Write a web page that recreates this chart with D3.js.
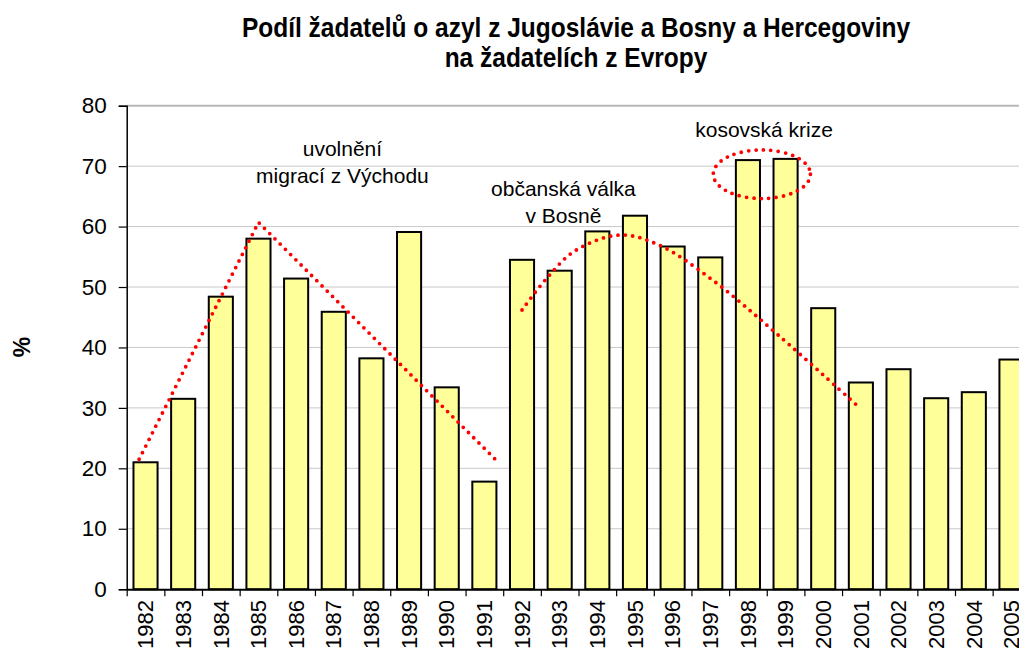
<!DOCTYPE html>
<html><head><meta charset="utf-8">
<script src="https://cdn.jsdelivr.net/npm/d3@7/dist/d3.min.js"></script>
<style>
body{margin:0;background:#fff;}
svg{display:block;font-family:"Liberation Sans",Arial,sans-serif;}
</style></head>
<body><svg id="c" width="1019" height="651"></svg>
<script>
const years = ["1982","1983","1984","1985","1986","1987","1988","1989","1990","1991","1992","1993","1994","1995","1996","1997","1998","1999","2000","2001","2002","2003","2004","2005"];
const shares = [21.0,31.5,48.4,58.0,51.4,45.9,38.2,59.1,33.4,17.8,54.5,52.7,59.2,61.8,56.7,54.9,71.0,71.2,46.5,34.2,36.4,31.6,32.6,38.0];
const yTicks = [0,10,20,30,40,50,60,70,80];
const titleLines = ["Podíl žadatelů o azyl z Jugoslávie a Bosny a Hercegoviny","na žadatelích z Evropy"];
const yLabel = "%";
// trend lines: [category position (0 = left edge of 1982 band), value]
const trend1 = [[0.33,21.5],[3.5,60.7],[9.82,21.3]];
const trend2 = [[10.5,46.2],[11.15,51.4],[11.91,56.0],[13.09,58.6],[14.12,57.0],[15.55,51.2],[17.35,41.8],[19.4,30.4]];
const ellipse = {cx:16.87, cy:68.66, rx:1.29, ry:4.02};
const notes = [
  {lines:["uvolnění","migrací z Východu"], x:5.73, y:[71.6,67.2]},
  {lines:["občanská válka","v Bosně"], x:11.6, y:[65.1,60.6]},
  {lines:["kosovská krize"], x:16.93, y:74.8}
];

const svg = d3.select("#c");
const x0 = 126.7, x1 = 1030.3;
const x = d3.scaleBand().domain(years).range([x0,x1]).paddingInner(0.36).paddingOuter(0.18);
const xi = d3.scaleLinear().domain([0,years.length]).range([x0,x1]);
const y = d3.scaleLinear().domain([0,80]).range([589.2,105.7]);

// gridlines
svg.append("g").selectAll("line").data(yTicks.filter(d=>d>0)).join("line")
  .attr("x1",x0).attr("x2",1019).attr("y1",d=>y(d)).attr("y2",d=>y(d))
  .attr("stroke",d=>d===80?"#b8b8b8":"#c8c8c8").attr("stroke-width",d=>d===80?2:1);

// bars
svg.append("g").selectAll("rect").data(years).join("rect")
  .attr("x",d=>x(d)).attr("width",x.bandwidth())
  .attr("y",(d,i)=>y(shares[i])).attr("height",(d,i)=>y(0)-y(shares[i]))
  .attr("fill","#FFFF99").attr("stroke","#000").attr("stroke-width",2);

// y axis
const ya = svg.append("g").attr("transform",`translate(${x0},0)`)
  .call(d3.axisLeft(y).tickValues(yTicks).tickSize(8).tickPadding(12).tickFormat(d3.format("d")));
ya.select(".domain").attr("stroke","#000").attr("stroke-width",1.5);
ya.selectAll(".tick line").attr("stroke","#000").attr("stroke-width",1.2);
ya.selectAll("text").attr("font-size",22.5).attr("fill","#000").attr("font-family","Liberation Sans, Arial, sans-serif");

// x axis
const xa = svg.append("g").attr("transform",`translate(0,${y(0)})`)
  .call(d3.axisBottom(xi).tickValues(d3.range(years.length+1)).tickSize(7).tickFormat("").tickSizeOuter(0));
xa.select(".domain").attr("stroke","#000").attr("stroke-width",2);
xa.selectAll(".tick line").attr("stroke","#000").attr("stroke-width",1.2);

svg.append("g").selectAll("text").data(years).join("text")
  .attr("transform",d=>`translate(${x(d)+x.bandwidth()/2},600) rotate(-90)`)
  .attr("text-anchor","end").attr("dy","0.35em")
  .attr("font-size",22).attr("fill","#000").text(d=>d);

// trend lines
const line = d3.line().x(d=>xi(d[0])).y(d=>y(d[1]));
const dotted = {stroke:"#ff0000","stroke-width":3.8,"stroke-linecap":"round","stroke-dasharray":"0 7.4",fill:"none"};
function sty(sel){for(const k in dotted) sel.attr(k,dotted[k]); return sel;}
sty(svg.append("path").attr("d",line(trend1)));
sty(svg.append("path").attr("d",line.curve(d3.curveCatmullRom)(trend2)));
sty(svg.append("ellipse").attr("cx",xi(ellipse.cx)).attr("cy",y(ellipse.cy))
  .attr("rx",xi(ellipse.cx+ellipse.rx)-xi(ellipse.cx)).attr("ry",y(ellipse.cy-ellipse.ry)-y(ellipse.cy)));

// annotations
notes.forEach(n=>{
  const ys = Array.isArray(n.y)?n.y:[n.y];
  n.lines.forEach((t,i)=>{
    svg.append("text").attr("x",xi(n.x)).attr("y",y(ys[i]))
      .attr("text-anchor","middle").attr("font-size",21).attr("fill","#000").text(t);
  });
});

// title
svg.append("g").selectAll("text").data(titleLines).join("text")
  .attr("transform",(d,i)=>`translate(576,${37+i*30}) scale(1,1.12)`).attr("text-anchor","middle")
  .attr("font-size",24.5).attr("font-weight","bold").attr("fill","#000").text(d=>d);

// y label
svg.append("text").attr("transform","translate(30,347) rotate(-90)")
  .attr("text-anchor","middle").attr("font-size",23).attr("font-weight","bold").text(yLabel);
</script></body></html>
